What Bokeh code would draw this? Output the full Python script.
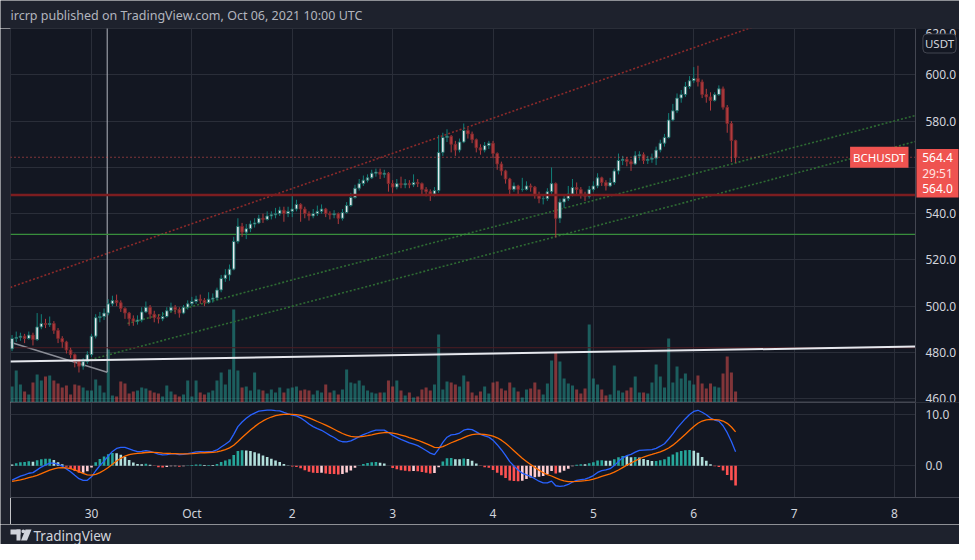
import numpy as np
from bokeh.plotting import figure
from bokeh.layouts import column, row
from bokeh.models import (Range1d, FixedTicker, NumeralTickFormatter, Label,
                          BoxAnnotation, ColumnDataSource, LinearAxis)
from bokeh.embed import file_html
from bokeh.resources import INLINE

# ---------------------------------------------------------------- data
TITLE = "ircrp published on TradingView.com, Oct 06, 2021 10:00 UTC"
SYMBOL = "BCHUSDT"
QUOTE = "USDT"
COUNTDOWN = "29:51"
SECOND_PRICE = 564.0
BRAND = "TradingView"

# hourly bars; x = hours from 2021-09-30 00:00 UTC, first bar 2021-09-29 05:00 UTC
FIRST_HOUR = -19
FIRST_OPEN = 481.5

CLOSES = [
    # Sep 29 05:00-23:00
    486, 486.5, 487, 486, 487.5, 485.5, 491, 492.5, 492, 492.5, 489.5, 486, 484.5, 481, 479, 476, 474, 476, 479,
    # Sep 30
    487, 495, 495.5, 497, 501, 502.4, 501.5, 499, 497, 494.5, 493.5, 494, 497.5, 499.5, 496.5, 495, 494.5, 495.5,
    498, 499.5, 498.5, 497, 499.5, 501,
    # Oct 1
    502, 503, 502.5, 501.5, 503, 503.5, 507, 512, 513.5, 516, 528, 534.5, 532, 533.5, 535.5, 536, 538, 537.5,
    539, 539.5, 540, 541.5, 540, 541,
    # Oct 2
    542, 544, 542, 540, 539, 540, 541, 542, 540, 539.5, 540, 538, 540.5, 543.5, 547, 551, 553, 554.5, 555.5,
    557.5, 558, 557, 557.5, 553,
    # Oct 3
    551.5, 553, 552.5, 553, 552.5, 553.5, 553, 550.5, 549.5, 548.5, 550, 566.5, 573, 573.5, 570, 567.5, 571, 576,
    574.5, 572, 568.5, 567.5, 569.5, 570.5,
    # Oct 4
    566, 561.5, 558.5, 555, 550.5, 552, 550.5, 550.5, 552, 551.5, 548, 546.5, 546.5, 549.5, 553, 538, 545, 546.5,
    548.5, 551.3, 550.5, 548.5, 547.5, 550.5,
    # Oct 5
    552, 555.5, 553.5, 552, 553.5, 558.5, 563, 563.5, 562.5, 561.5, 565, 565.5, 563, 563.5, 564, 567.5, 570.5,
    573, 580.5, 584.5, 590, 591.5, 595, 597.5,
    # Oct 6 00:00-10:00
    598.5, 597, 591.5, 590.5, 589, 591.5, 594, 586, 579, 571.6, 564.4,
]
HIGHS = [
    487.5, 489, 488.5, 488, 489, 488.5, 497, 496.5, 494.5, 495.5, 493.5, 490.5, 487, 485, 482, 479.5, 477, 477.5, 480.5,
    488, 496.5, 497.5, 499, 503, 504.5, 505, 502.5, 499.5, 497.5, 496, 496, 499.5, 502, 500.5, 498, 496.5, 497.5,
    499.5, 501.5, 500.5, 499.5, 500.5, 502.5,
    504, 504.5, 505, 503.5, 506, 505.5, 508, 513.5, 516, 518, 530, 538, 536, 535.5, 537, 538, 539.5, 540,
    541, 541, 542.5, 543, 543, 543,
    548.5, 546, 544.5, 543, 541, 542, 543.5, 544, 542.5, 541, 541.5, 540.5, 542, 545, 549, 552.5, 555, 556.5, 557,
    559, 559.5, 559.5, 559, 558,
    554.5, 555, 556, 555, 554.5, 557, 555, 553.5, 551.5, 550.5, 551.5, 574, 575, 576.5, 574, 571.5, 572.5, 579,
    577, 575.5, 572.5, 570, 571, 571.5,
    571.5, 566.5, 562.5, 559, 555.5, 553.5, 552.5, 555.5, 554, 553, 552, 549.5, 548, 551, 560, 553.5, 546.5, 548.5,
    552, 555, 553.5, 551.5, 549.5, 552,
    554, 557.5, 556, 554.5, 555.5, 559.5, 566, 565, 564.5, 563.5, 567, 567, 566.5, 565, 566, 569, 572,
    574.5, 583.5, 587.5, 592, 593.5, 597, 599.5,
    603.4, 604, 598, 594, 592.5, 592.5, 595.5, 595, 587, 580, 572,
]
LOWS = [
    480.5, 484.5, 485, 484, 485.5, 483, 485, 490, 490.5, 491, 488, 484, 482, 479.5, 477.5, 473.5, 471.3, 472.5, 475,
    478, 486, 493, 494, 496, 500, 500, 497.5, 494.5, 491.5, 491.5, 492, 493, 497, 494.5, 493, 492.5, 493.5,
    495, 497.5, 496.5, 495, 496.5, 498.5,
    500, 501, 501, 500, 501, 501.5, 502.5, 506, 510.5, 511, 515.5, 527, 530, 529, 532, 534, 535.5, 536,
    537, 537.5, 538, 539, 536.5, 538.5,
    538.5, 541, 536.5, 538, 537, 538, 539, 540, 538.5, 537.5, 538, 535.5, 537, 540, 543, 546.5, 550, 552, 553.5,
    555, 556, 555, 555.5, 549.5,
    549, 550.5, 551, 551, 551, 551.5, 551.5, 548.5, 547.5, 545.5, 547.5, 549, 565, 571, 566.5, 565, 566.5, 570.5,
    572.5, 570.5, 566.5, 565.5, 566.5, 568,
    564, 559, 556.5, 553, 548.5, 549.5, 548.5, 549.5, 550, 549.5, 546.5, 544.5, 544, 545.5, 548, 529.7, 536, 542.5,
    545.5, 547.5, 548.5, 546.5, 545.5, 546.5,
    549.5, 551, 552, 550, 551.5, 552.5, 557, 561, 560.5, 558.5, 561, 563, 561.5, 561.5, 562, 561, 566.5,
    569, 572.5, 580, 583.5, 588, 590.5, 594,
    596.5, 595, 590, 588, 584.6, 588.5, 591, 585, 575, 562.3, 562,
]
VOLUMES = [  # thousand BCH
    1.6, 3.2, 1.8, 1.1, 0.8, 2.0, 2.8, 2.2, 2.6, 2.7, 2.2, 1.9, 1.5, 1.7, 0.8, 1.8, 1.7, 1.5, 1.2,
    1.2, 2.3, 1.7, 1.0, 5.3, 0.7, 0.6, 2.1, 1.9, 0.9, 1.1, 1.2, 1.5, 1.4, 1.2, 1.0, 0.9, 0.6, 1.7, 1.1, 0.8,
    0.6, 0.8, 2.2,
    0.6, 2.2, 1.0, 0.8, 1.0, 1.2, 2.2, 3.0, 1.8, 3.3, 9.3, 3.2, 1.5, 1.6, 1.2, 3.0, 1.3, 1.2, 0.9, 1.3, 1.0,
    1.5, 1.0, 1.4,
    1.5, 1.6, 1.2, 1.3, 1.2, 0.8, 1.2, 1.0, 1.8, 1.0, 1.2, 0.8, 1.3, 3.3, 2.0, 1.9, 2.2, 1.7, 1.2, 1.0, 0.9,
    1.0, 1.0, 2.2,
    1.6, 2.2, 1.2, 0.7, 1.0, 0.5, 0.6, 1.3, 1.5, 1.2, 1.8, 6.8, 1.3, 2.1, 2.0, 1.8, 1.6, 2.7, 2.1, 1.0, 0.7,
    1.1, 1.6, 0.9,
    2.0, 2.1, 1.4, 1.2, 2.0, 1.5, 1.1, 0.5, 1.3, 1.4, 2.0, 1.3, 0.8, 1.9, 4.2, 5.0, 4.1, 2.4, 1.9, 1.7, 1.3,
    0.9, 1.4, 7.8,
    2.4, 1.8, 1.3, 0.7, 0.8, 3.7, 1.2, 1.0, 1.2, 1.5, 2.6, 1.0, 1.0, 0.9, 2.0, 3.8, 2.6, 1.5, 6.4, 2.0, 3.6,
    2.4, 2.9, 2.2,
    1.8, 2.7, 1.9, 1.4, 1.9, 1.6, 1.5, 2.9, 4.6, 3.0, 1.1,
]

DAY_TICKS = [0, 24, 48, 72, 96, 120, 144, 168, 192]
DAY_LABELS = ["30", "Oct", "2", "3", "4", "5", "6", "7", "8"]
PRICE_TICKS = [460, 480, 500, 520, 540, 560, 580, 600, 620]
MACD_TICKS = [0, 10]

# MACD(12, 26, 9) with the EMA state at the left edge
MACD_FAST, MACD_SLOW, MACD_SIG = 12, 26, 9
EMA_FAST_SEED, EMA_SLOW_SEED, SIGNAL_SEED = 483.8, 487.0, -3.1

# drawings (hour, price) anchors
RED_CHANNEL = ([-19.4, 73.9], [508.1, 567.3])
GREEN_UPPER = ([8.6, 197.0], [492.5, 582.5])
GREEN_LOWER = ([-0.2, 197.0], [476.9, 571.2])
WHITE_LINE = ([-19.4, 197.0], [476.0, 482.5])
GREY_LINE = ([-19.4, 3.75], [484.4, 471.4])
VERTICAL_HOUR = 3.75
RED_LEVEL = 548.1
GREEN_LEVEL = 531.0
THIN_RED_LEVEL = 482.0

# ---------------------------------------------------------------- style / view
OUTER = "#1e222d"
PANE = "#131722"
GRID = "#2a2e39"
AXIS_TXT = "#d1d4dc"
FONT = "Noto Sans"
UP_FILL, UP_LINE, UP_WICK = "#e8ebf0", "#1d6d67", "#128079"
DN_FILL, DN_LINE, DN_WICK = "#b33b3e", "#7d2a2e", "#b33b3e"

TOTAL_W = 959
LEFT_STRIP = 10
PANE_W = TOTAL_W - LEFT_STRIP      # frame spans page x 10 .. 959
AXIS_PX = 915                      # page x of the price-scale edge
MAIN_TOP, MAIN_H, MACD_H, XAXIS_H = 28, 374, 95, 27
PX_PER_H = 4.1823
X_START = -19.37
X_END = X_START + PANE_W / PX_PER_H
AXIS_HOUR = X_START + (AXIS_PX - LEFT_STRIP) / PX_PER_H
PRICE_RANGE = (458.31, 620.1)
MACD_RANGE = (-6.18, 12.34)
VOL_MAX = 37.4
PX_PER_USD = MAIN_H / (PRICE_RANGE[1] - PRICE_RANGE[0])


def hour_at(px):
    return X_START + (px - LEFT_STRIP) / PX_PER_H


def price_at(py):
    return PRICE_RANGE[1] - (py - MAIN_TOP) / PX_PER_USD


def ema(vals, n, seed):
    k = 2.0 / (n + 1)
    e = seed
    out = []
    for v in vals:
        e += k * (v - e)
        out.append(e)
    return np.array(out)


hours = FIRST_HOUR + np.arange(len(CLOSES))
closes = np.array(CLOSES, float)
opens = np.concatenate([[FIRST_OPEN], closes[:-1]])
up = closes >= opens

macd = ema(closes, MACD_FAST, EMA_FAST_SEED) - ema(closes, MACD_SLOW, EMA_SLOW_SEED)
signal = ema(macd, MACD_SIG, SIGNAL_SEED)
hist = macd - signal
hist_colors = []
for i, v in enumerate(hist):
    pv = hist[i - 1] if i > 0 else v
    if v >= 0:
        hist_colors.append("#26a69a" if v > pv else "#b2dfdb")
    else:
        hist_colors.append("#ffcdd2" if v > pv else "#ff5252")

src = ColumnDataSource(dict(
    x=hours, o=opens, c=closes, h=HIGHS, l=LOWS, v=VOLUMES,
    top=np.maximum(opens, closes), bot=np.minimum(opens, closes),
    fill=[UP_FILL if u else DN_FILL for u in up],
    line=[UP_LINE if u else DN_LINE for u in up],
    wick=[UP_WICK if u else DN_WICK for u in up],
    vcol=["#26a69a" if u else "#ef5350" for u in up],
))
msrc = ColumnDataSource(dict(x=hours, macd=macd, sig=signal, hist=hist, hc=hist_colors))

x_range = Range1d(X_START, X_END)


def style_axis(ax):
    ax.axis_line_color = "#434651"
    ax.major_tick_line_color = None
    ax.minor_tick_line_color = None
    ax.major_tick_out = 0
    ax.major_tick_in = 0
    ax.major_label_text_color = AXIS_TXT
    ax.major_label_text_font = FONT
    ax.major_label_text_font_size = "12px"


def strip(width, height):
    f = figure(width=width, height=height, x_range=Range1d(0, width), y_range=Range1d(0, height),
               toolbar_location=None, output_backend="svg",
               x_axis_location=None, y_axis_location=None,
               min_border_left=0, min_border_right=0, min_border_top=0, min_border_bottom=0)
    f.background_fill_color = OUTER
    f.border_fill_color = OUTER
    f.outline_line_color = None
    f.xgrid.visible = False
    f.ygrid.visible = False
    return f


# ---------------------------------------------------------------- title strip
t = strip(TOTAL_W, MAIN_TOP)
t.add_layout(Label(x=10, y=13, text=TITLE, text_baseline="middle", text_align="left",
                   text_color="#b2b5be", text_font=FONT, text_font_size="12.5px"))

left = strip(LEFT_STRIP, MAIN_H + MACD_H + XAXIS_H)

# ---------------------------------------------------------------- main price pane
p = figure(width=PANE_W, height=MAIN_H, x_range=x_range, y_range=Range1d(*PRICE_RANGE),
           toolbar_location=None, output_backend="svg",
           x_axis_location=None, y_axis_location=None,
           min_border_left=0, min_border_right=0, min_border_top=0, min_border_bottom=0)
p.background_fill_color = PANE
p.border_fill_color = PANE
p.outline_line_color = "#2a2e39"
p.xgrid.ticker = FixedTicker(ticks=DAY_TICKS)
p.xgrid.grid_line_color = GRID
p.ygrid.ticker = FixedTicker(ticks=PRICE_TICKS)
p.ygrid.grid_line_color = GRID

p.extra_y_ranges = {"vol": Range1d(0, VOL_MAX)}
p.vbar(x="x", top="v", bottom=0, width=0.72, source=src, y_range_name="vol",
       fill_color="vcol", fill_alpha=0.5, line_color=None)

# drawings
red_slope = (RED_CHANNEL[1][1] - RED_CHANNEL[1][0]) / (RED_CHANNEL[0][1] - RED_CHANNEL[0][0])
p.line([RED_CHANNEL[0][0], AXIS_HOUR],
       [RED_CHANNEL[1][0], RED_CHANNEL[1][0] + red_slope * (AXIS_HOUR - RED_CHANNEL[0][0])],
       line_color="#8c2a2a", line_width=1.6, line_dash="2 2")
p.line(GREEN_UPPER[0], GREEN_UPPER[1], line_color="#2e6b33", line_width=1.6, line_dash="2 2")
p.line(GREEN_LOWER[0], GREEN_LOWER[1], line_color="#2e6b33", line_width=1.6, line_dash="2 2")
p.line(GREY_LINE[0], GREY_LINE[1], line_color="#8a8d96", line_width=1.5)
p.segment(x0=[VERTICAL_HOUR], y0=[GREY_LINE[1][1]], x1=[VERTICAL_HOUR], y1=[PRICE_RANGE[1] + 5],
          line_color="#b2b5be", line_width=1)
for lvl, col, lw in [(GREEN_LEVEL, "#388e3c", 1.2), (THIN_RED_LEVEL, "#4e1d22", 1)]:
    p.line([X_START, AXIS_HOUR], [lvl, lvl], line_color=col, line_width=lw)

# candles
p.segment(x0="x", y0="h", x1="x", y1="l", source=src, line_color="wick", line_width=1)
p.vbar(x="x", top="top", bottom="bot", width=0.6, source=src,
       fill_color="fill", line_color="line", line_width=1)

p.line(WHITE_LINE[0], WHITE_LINE[1], line_color="#e6e8ee", line_width=2)
p.line([X_START, AXIS_HOUR], [RED_LEVEL, RED_LEVEL], line_color="#7c1d20", line_width=2.5)
p.line([X_START, AXIS_HOUR], [CLOSES[-1], CLOSES[-1]], line_color="#ef5350",
       line_width=1, line_dash="1 3")

# price scale column
p.quad(left=[AXIS_HOUR], right=[X_END + 1], bottom=[PRICE_RANGE[0] - 5], top=[PRICE_RANGE[1] + 5],
       fill_color=PANE, line_color=None)
pax = LinearAxis(fixed_location=AXIS_HOUR, ticker=FixedTicker(ticks=PRICE_TICKS),
                 formatter=NumeralTickFormatter(format="0.0"))
style_axis(pax)
pax.major_label_standoff = 10
p.add_layout(pax, "right")

# labels
p.add_layout(Label(x=hour_at(908), y=CLOSES[-1], text=SYMBOL, text_align="right",
                   text_baseline="middle", text_color="white", text_font=FONT,
                   text_font_size="11.5px", background_fill_color="#ef5350", padding=3))
p.add_layout(BoxAnnotation(left=hour_at(916), right=hour_at(958), top=price_at(148.5),
                           bottom=price_at(197), fill_color="#ef5350", fill_alpha=1,
                           line_color=None))
for txt, py, col in [(f"{CLOSES[-1]:.1f}", None, "white"), (COUNTDOWN, 172.5, "#ffe3e3"),
                     (f"{SECOND_PRICE:.1f}", 188, "white")]:
    p.add_layout(Label(x=hour_at(937), y=CLOSES[-1] if py is None else price_at(py), text=txt,
                       text_align="center", text_baseline="middle", text_color=col,
                       text_font=FONT, text_font_size="12px"))
p.add_layout(Label(x=hour_at(939), y=price_at(43), text=QUOTE, text_align="center",
                   text_baseline="middle", text_color=AXIS_TXT, text_font=FONT,
                   text_font_size="11.5px", background_fill_color=PANE,
                   border_line_color="#434651", border_radius=4, padding=2))

# ---------------------------------------------------------------- MACD pane
m = figure(width=PANE_W, height=MACD_H + XAXIS_H, x_range=x_range, y_range=Range1d(*MACD_RANGE),
           toolbar_location=None, output_backend="svg",
           x_axis_location="below", y_axis_location=None,
           min_border_left=0, min_border_right=0, min_border_top=0, min_border_bottom=XAXIS_H)
m.background_fill_color = PANE
m.border_fill_color = PANE
m.outline_line_color = "#434651"
m.xaxis.ticker = FixedTicker(ticks=DAY_TICKS)
m.xaxis.major_label_overrides = {t_: lab for t_, lab in zip(DAY_TICKS, DAY_LABELS)}
m.xgrid.ticker = FixedTicker(ticks=DAY_TICKS)
m.xgrid.grid_line_color = GRID
m.ygrid.ticker = FixedTicker(ticks=MACD_TICKS)
m.ygrid.grid_line_color = GRID
style_axis(m.xaxis[0])
m.xaxis.major_label_standoff = 7

m.vbar(x="x", top="hist", bottom=0, width=0.62, source=msrc, fill_color="hc", line_color=None)
m.line("x", "macd", source=msrc, line_color="#2962ff", line_width=1.3)
m.line("x", "sig", source=msrc, line_color="#ff6d00", line_width=1.3)

m.quad(left=[AXIS_HOUR], right=[X_END + 1], bottom=[MACD_RANGE[0] - 5], top=[MACD_RANGE[1] + 5],
       fill_color=PANE, line_color=None)
max_ = LinearAxis(fixed_location=AXIS_HOUR, ticker=FixedTicker(ticks=MACD_TICKS),
                  formatter=NumeralTickFormatter(format="0.0"))
style_axis(max_)
max_.major_label_standoff = 10
m.add_layout(max_, "right")

# ---------------------------------------------------------------- brand strip
lg = strip(TOTAL_W, 20)
LOGO = "#d1d4dc"
lg.quad(left=[10, 16], right=[20, 20], bottom=[10, 4], top=[15, 15], fill_color=LOGO, line_color=None)
lg.circle(x=[22.8], y=[13.2], radius=1.9, fill_color=LOGO, line_color=None)
lg.patch([25, 31, 26.5, 20.5], [15, 15, 4, 4], fill_color=LOGO, line_color=None)
lg.add_layout(Label(x=33, y=9, text=BRAND, text_baseline="middle", text_align="left",
                    text_color=LOGO, text_font=FONT, text_font_size="13.5px"))

layout = column(t, row(left, column(p, m, spacing=0), spacing=0), lg, spacing=0)
open("out.html", "w").write(file_html(layout, INLINE))
